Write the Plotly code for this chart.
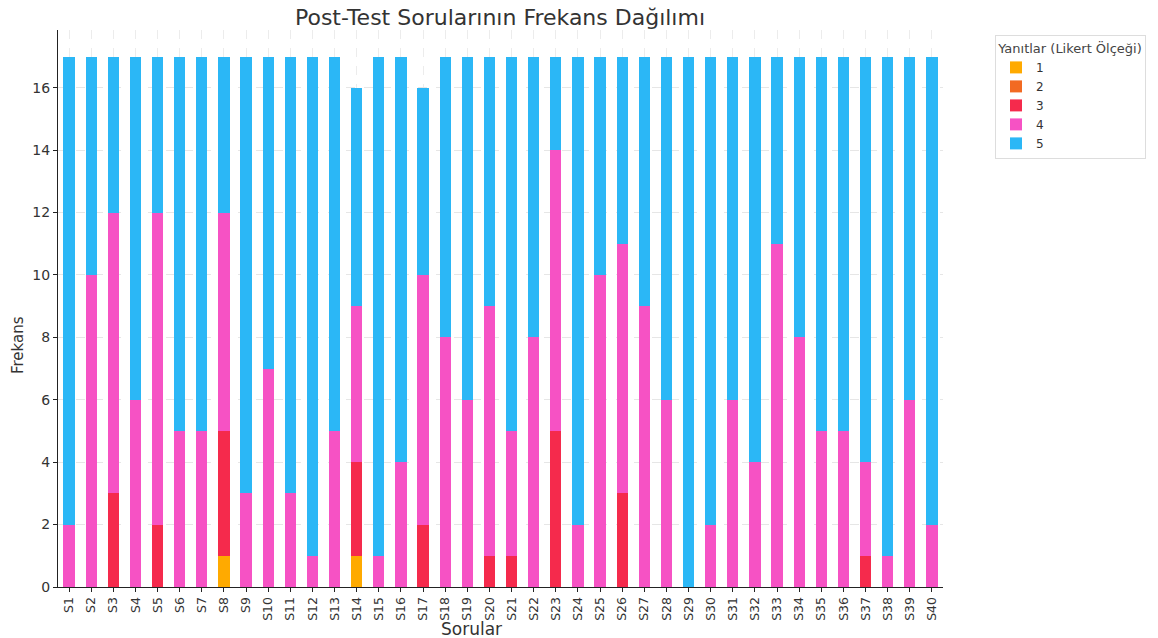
import plotly.graph_objects as go

questions = [f"S{i}" for i in range(1, 41)]
levels = ["1", "2", "3", "4", "5"]
colors = ["#ffaa00", "#f26a22", "#f52a4c", "#f652c4", "#2bb7f6"]

count_1 = [0, 0, 0, 0, 0, 0, 0, 1, 0, 0, 0, 0, 0, 1, 0, 0, 0, 0, 0, 0,
           0, 0, 0, 0, 0, 0, 0, 0, 0, 0, 0, 0, 0, 0, 0, 0, 0, 0, 0, 0]
count_2 = [0] * 40
count_3 = [0, 0, 3, 0, 2, 0, 0, 4, 0, 0, 0, 0, 0, 3, 0, 0, 2, 0, 0, 1,
           1, 0, 5, 0, 0, 3, 0, 0, 0, 0, 0, 0, 0, 0, 0, 0, 1, 0, 0, 0]
count_4 = [2, 10, 9, 6, 10, 5, 5, 7, 3, 7, 3, 1, 5, 5, 1, 4, 8, 8, 6, 8,
           4, 8, 9, 2, 10, 8, 9, 6, 0, 2, 6, 4, 11, 8, 5, 5, 3, 1, 6, 2]
count_5 = [15, 7, 5, 11, 5, 12, 12, 5, 14, 10, 14, 16, 12, 7, 16, 13, 6, 9, 11, 8,
           12, 9, 3, 15, 7, 6, 8, 11, 17, 15, 11, 13, 6, 9, 12, 12, 13, 16, 11, 15]

series = [count_1, count_2, count_3, count_4, count_5]

fig = go.Figure()
for lvl, vals, col in zip(levels, series, colors):
    fig.add_trace(go.Bar(x=questions, y=vals, name=lvl, marker=dict(color=col, line=dict(width=0))))

font_family = "DejaVu Sans"
W, H = 1158, 638
L, R, T, B = 58, 215, 30, 51
pw, ph = W - L - R, H - T - B

fig.update_layout(
    barmode="stack",
    bargap=0.49,
    width=W, height=H,
    margin=dict(l=L, r=R, t=T, b=B),
    paper_bgcolor="white", plot_bgcolor="white",
    font=dict(family=font_family, color="#333333", size=13),
    title=dict(text="Post-Test Sorularının Frekans Dağılımı", x=500 / W, xanchor="center",
               y=1 - 17 / H, yanchor="middle", font=dict(size=22, color="#333333")),
    legend=dict(
        title=dict(text="Yanıtlar (Likert Ölçeği)", side="top center", font=dict(size=13, color="#444444")),
        x=(995 - L) / pw, y=(H - B - 35) / ph, xanchor="left", yanchor="top",
        bordercolor="#dddddd", borderwidth=1, font=dict(size=12),
        traceorder="normal", itemwidth=30, tracegroupgap=0,
    ),
    xaxis=dict(
        tickangle=-90, tickfont=dict(size=12.5),
        showline=True, linecolor="#222222", linewidth=1,
        ticks="outside", ticklen=4, tickcolor="#222222",
        showgrid=True, gridcolor="#ececec", griddash="dash", gridwidth=1,
        range=[-0.5, 39.5], automargin=False,
    ),
    yaxis=dict(
        range=[0, 17.85], dtick=2, tickfont=dict(size=14),
        showline=True, linecolor="#222222", linewidth=1,
        ticks="outside", ticklen=4, tickcolor="#222222",
        showgrid=True, gridcolor="#e6e6e6", griddash="dash", gridwidth=1,
        zeroline=False, automargin=False,
    ),
    annotations=[
        dict(text="Sorular", xref="paper", yref="paper",
             x=(471 - L) / pw, y=-(629 - (H - B)) / ph, xanchor="center", yanchor="middle",
             showarrow=False, font=dict(size=17, color="#333333")),
        dict(text="Frekans", xref="paper", yref="paper", textangle=-90,
             x=-(L - 18) / pw, y=(H - B - 345) / ph, xanchor="center", yanchor="middle",
             showarrow=False, font=dict(size=15, color="#333333")),
    ],
)

fig.write_html(
    "out.html",
    config={"displayModeBar": False},
    post_script="document.body.style.margin='0';document.body.style.overflow='hidden';",
)
